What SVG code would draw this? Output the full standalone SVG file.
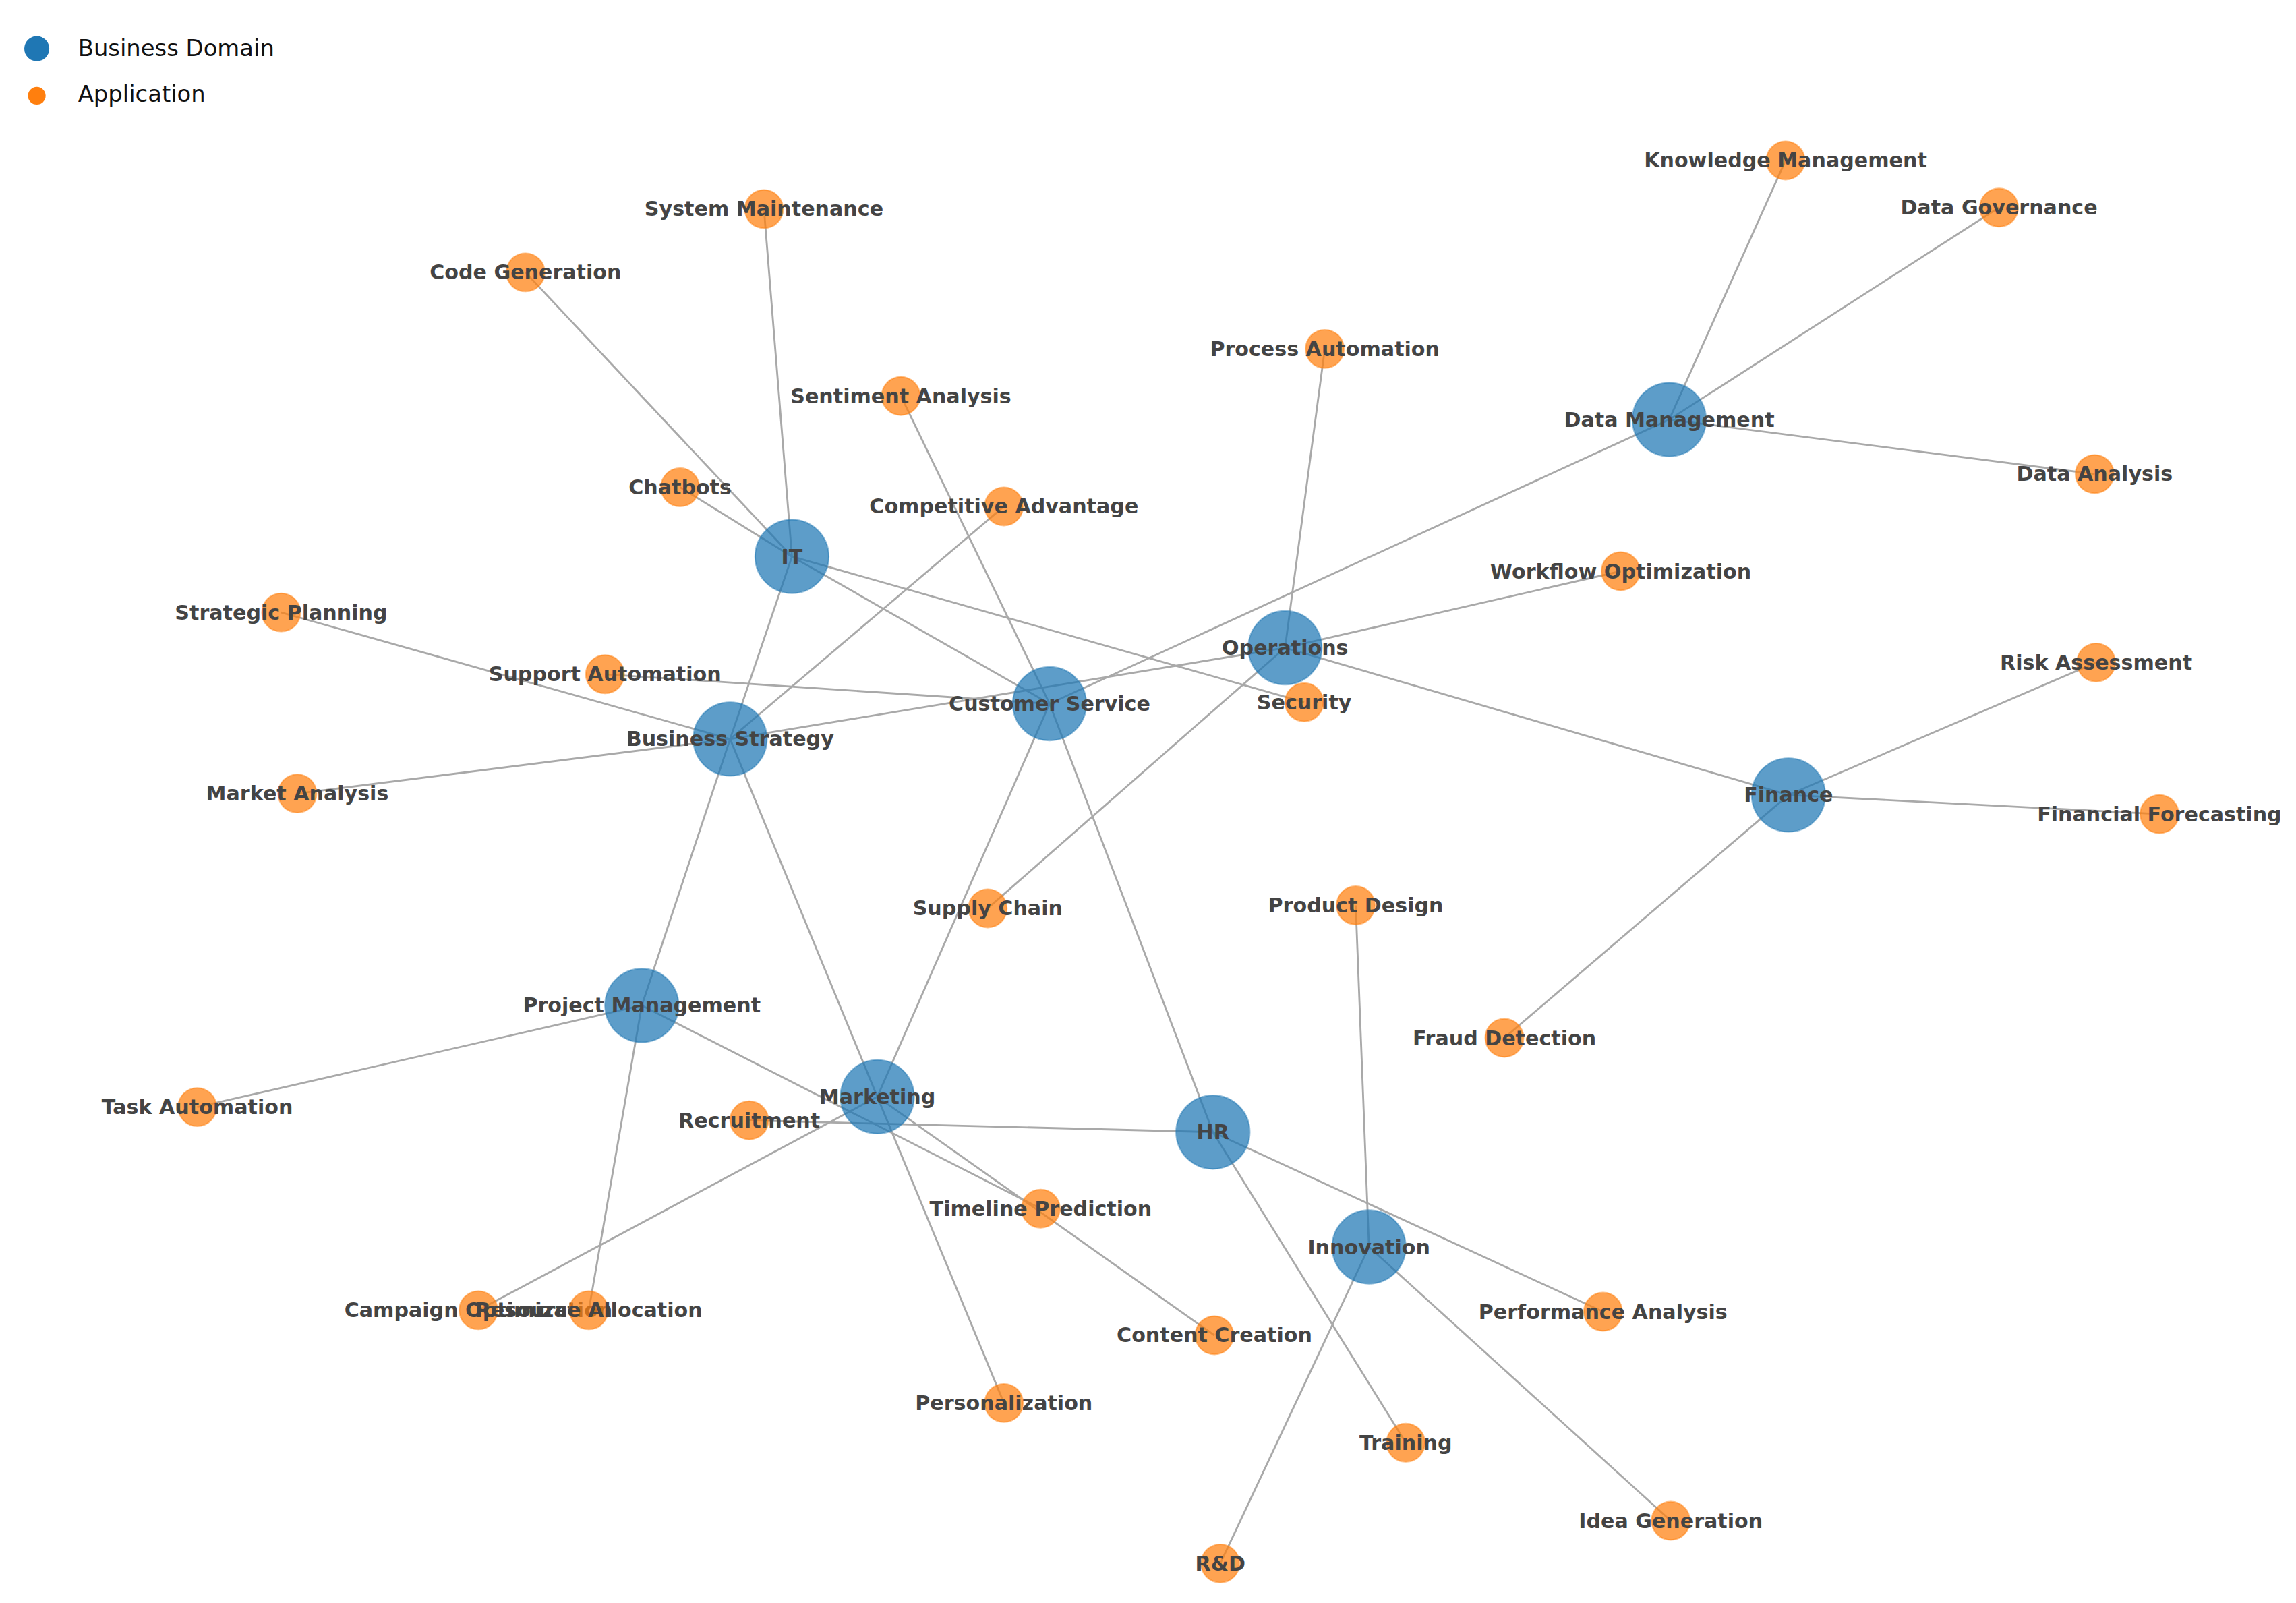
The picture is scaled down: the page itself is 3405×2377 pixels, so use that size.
<svg xmlns="http://www.w3.org/2000/svg" width="3405" height="2377" viewBox="0 0 3405 2377">
<style>
.e{stroke:#a9a9a9;stroke-width:1.3;fill:none}
.b{fill:#1f77b4;fill-opacity:.72;stroke:#1f77b4;stroke-opacity:.5}
.o{fill:#ff7f0e;fill-opacity:.72;stroke:#ff7f0e;stroke-opacity:.5}
text{font-family:"DejaVu Sans",sans-serif}
.l{font-size:13.8px;font-weight:bold;fill:#444;text-anchor:middle;dominant-baseline:central}
.lg{font-size:15.5px;fill:#111}
</style>
<rect width="3405" height="2377" fill="#fff"/>
<g transform="scale(2.183)">
<g id="legend">
<circle cx="25" cy="33" r="8.5" fill="#1f77b4"/><text class="lg" x="53" y="38">Business Domain</text>
<circle cx="25" cy="65" r="6" fill="#ff7f0e"/><text class="lg" x="53" y="69">Application</text>
</g>
<g id="edges">
<line class="e" x1="538" y1="378" x2="519" y2="142"/>
<line class="e" x1="538" y1="378" x2="357" y2="185"/>
<line class="e" x1="538" y1="378" x2="462" y2="331"/>
<line class="e" x1="538" y1="378" x2="886" y2="477"/>
<line class="e" x1="538" y1="378" x2="713" y2="478"/>
<line class="e" x1="538" y1="378" x2="496" y2="502"/>
<line class="e" x1="496" y1="502" x2="191" y2="416"/>
<line class="e" x1="496" y1="502" x2="202" y2="539"/>
<line class="e" x1="496" y1="502" x2="682" y2="344"/>
<line class="e" x1="496" y1="502" x2="873" y2="440"/>
<line class="e" x1="496" y1="502" x2="436" y2="683"/>
<line class="e" x1="496" y1="502" x2="596" y2="745"/>
<line class="e" x1="713" y1="478" x2="411" y2="458"/>
<line class="e" x1="713" y1="478" x2="612" y2="269"/>
<line class="e" x1="713" y1="478" x2="1134" y2="285"/>
<line class="e" x1="713" y1="478" x2="824" y2="769"/>
<line class="e" x1="713" y1="478" x2="596" y2="745"/>
<line class="e" x1="873" y1="440" x2="900" y2="237"/>
<line class="e" x1="873" y1="440" x2="1101" y2="388"/>
<line class="e" x1="873" y1="440" x2="1215" y2="540"/>
<line class="e" x1="873" y1="440" x2="671" y2="617"/>
<line class="e" x1="1134" y1="285" x2="1213" y2="109"/>
<line class="e" x1="1134" y1="285" x2="1358" y2="141"/>
<line class="e" x1="1134" y1="285" x2="1423" y2="322"/>
<line class="e" x1="1215" y1="540" x2="1424" y2="450"/>
<line class="e" x1="1215" y1="540" x2="1467" y2="553"/>
<line class="e" x1="1215" y1="540" x2="1022" y2="705"/>
<line class="e" x1="436" y1="683" x2="134" y2="752"/>
<line class="e" x1="436" y1="683" x2="400" y2="890"/>
<line class="e" x1="436" y1="683" x2="707" y2="821"/>
<line class="e" x1="596" y1="745" x2="325" y2="890"/>
<line class="e" x1="596" y1="745" x2="682" y2="953"/>
<line class="e" x1="596" y1="745" x2="825" y2="907"/>
<line class="e" x1="824" y1="769" x2="509" y2="761"/>
<line class="e" x1="824" y1="769" x2="1089" y2="891"/>
<line class="e" x1="824" y1="769" x2="955" y2="980"/>
<line class="e" x1="930" y1="847" x2="921" y2="615"/>
<line class="e" x1="930" y1="847" x2="829" y2="1062"/>
<line class="e" x1="930" y1="847" x2="1135" y2="1033"/>
</g>
<g id="n-it"><circle class="b" cx="538" cy="378" r="25"/><text class="l" x="538" y="378">IT</text></g>
<g id="n-bs"><circle class="b" cx="496" cy="502" r="25"/><text class="l" x="496" y="502">Business Strategy</text></g>
<g id="n-cs"><circle class="b" cx="713" cy="478" r="25"/><text class="l" x="713" y="478">Customer Service</text></g>
<g id="n-ops"><circle class="b" cx="873" cy="440" r="25"/><text class="l" x="873" y="440">Operations</text></g>
<g id="n-dm"><circle class="b" cx="1134" cy="285" r="25"/><text class="l" x="1134" y="285">Data Management</text></g>
<g id="n-fin"><circle class="b" cx="1215" cy="540" r="25"/><text class="l" x="1215" y="540">Finance</text></g>
<g id="n-pm"><circle class="b" cx="436" cy="683" r="25"/><text class="l" x="436" y="683">Project Management</text></g>
<g id="n-mkt"><circle class="b" cx="596" cy="745" r="25"/><text class="l" x="596" y="745">Marketing</text></g>
<g id="n-hr"><circle class="b" cx="824" cy="769" r="25"/><text class="l" x="824" y="769">HR</text></g>
<g id="n-inn"><circle class="b" cx="930" cy="847" r="25"/><text class="l" x="930" y="847">Innovation</text></g>
<g id="a1"><circle class="o" cx="519" cy="142" r="13"/><text class="l" x="519" y="142">System Maintenance</text></g>
<g id="a2"><circle class="o" cx="357" cy="185" r="13"/><text class="l" x="357" y="185">Code Generation</text></g>
<g id="a3"><circle class="o" cx="612" cy="269" r="13"/><text class="l" x="612" y="269">Sentiment Analysis</text></g>
<g id="a4"><circle class="o" cx="462" cy="331" r="13"/><text class="l" x="462" y="331">Chatbots</text></g>
<g id="a5"><circle class="o" cx="682" cy="344" r="13"/><text class="l" x="682" y="344">Competitive Advantage</text></g>
<g id="a6"><circle class="o" cx="191" cy="416" r="13"/><text class="l" x="191" y="416">Strategic Planning</text></g>
<g id="a7"><circle class="o" cx="411" cy="458" r="13"/><text class="l" x="411" y="458">Support Automation</text></g>
<g id="a8"><circle class="o" cx="202" cy="539" r="13"/><text class="l" x="202" y="539">Market Analysis</text></g>
<g id="a9"><circle class="o" cx="900" cy="237" r="13"/><text class="l" x="900" y="237">Process Automation</text></g>
<g id="a10"><circle class="o" cx="1213" cy="109" r="13"/><text class="l" x="1213" y="109">Knowledge Management</text></g>
<g id="a11"><circle class="o" cx="1358" cy="141" r="13"/><text class="l" x="1358" y="141">Data Governance</text></g>
<g id="a12"><circle class="o" cx="1423" cy="322" r="13"/><text class="l" x="1423" y="322">Data Analysis</text></g>
<g id="a13"><circle class="o" cx="1101" cy="388" r="13"/><text class="l" x="1101" y="388">Workflow Optimization</text></g>
<g id="a14"><circle class="o" cx="886" cy="477" r="13"/><text class="l" x="886" y="477">Security</text></g>
<g id="a15"><circle class="o" cx="1424" cy="450" r="13"/><text class="l" x="1424" y="450">Risk Assessment</text></g>
<g id="a16"><circle class="o" cx="1467" cy="553" r="13"/><text class="l" x="1467" y="553">Financial Forecasting</text></g>
<g id="a17"><circle class="o" cx="671" cy="617" r="13"/><text class="l" x="671" y="617">Supply Chain</text></g>
<g id="a18"><circle class="o" cx="921" cy="615" r="13"/><text class="l" x="921" y="615">Product Design</text></g>
<g id="a19"><circle class="o" cx="1022" cy="705" r="13"/><text class="l" x="1022" y="705">Fraud Detection</text></g>
<g id="a20"><circle class="o" cx="134" cy="752" r="13"/><text class="l" x="134" y="752">Task Automation</text></g>
<g id="a21"><circle class="o" cx="509" cy="761" r="13"/><text class="l" x="509" y="761">Recruitment</text></g>
<g id="a22"><circle class="o" cx="707" cy="821" r="13"/><text class="l" x="707" y="821">Timeline Prediction</text></g>
<g id="a23"><circle class="o" cx="325" cy="890" r="13"/><text class="l" x="325" y="890">Campaign Optimization</text></g>
<g id="a24"><circle class="o" cx="400" cy="890" r="13"/><text class="l" x="400" y="890">Resource Allocation</text></g>
<g id="a25"><circle class="o" cx="825" cy="907" r="13"/><text class="l" x="825" y="907">Content Creation</text></g>
<g id="a26"><circle class="o" cx="1089" cy="891" r="13"/><text class="l" x="1089" y="891">Performance Analysis</text></g>
<g id="a27"><circle class="o" cx="682" cy="953" r="13"/><text class="l" x="682" y="953">Personalization</text></g>
<g id="a28"><circle class="o" cx="955" cy="980" r="13"/><text class="l" x="955" y="980">Training</text></g>
<g id="a29"><circle class="o" cx="1135" cy="1033" r="13"/><text class="l" x="1135" y="1033">Idea Generation</text></g>
<g id="a30"><circle class="o" cx="829" cy="1062" r="13"/><text class="l" x="829" y="1062">R&amp;D</text></g>
</g>
</svg>
